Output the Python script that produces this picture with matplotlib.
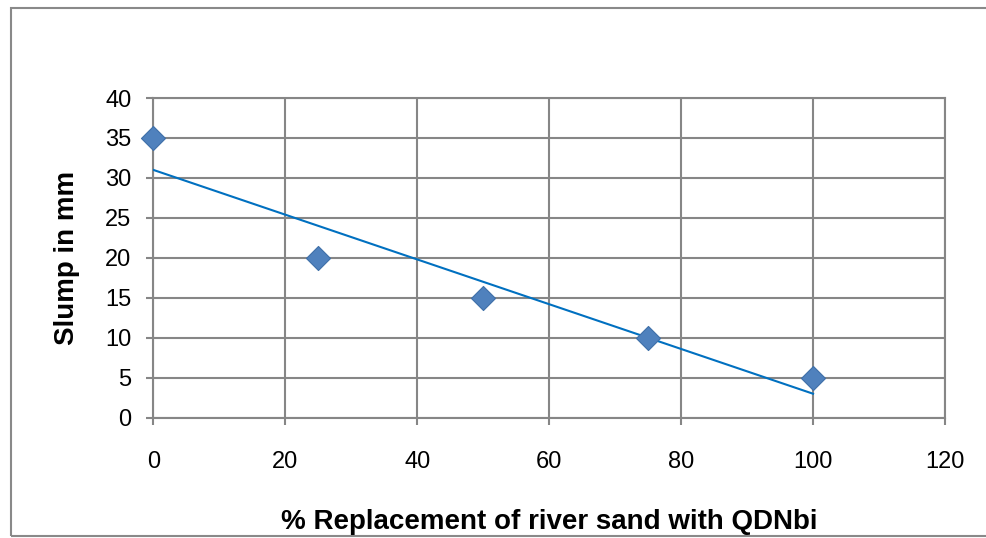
import numpy as np
import matplotlib.pyplot as plt
from matplotlib.patches import Rectangle

replacement = [0, 25, 50, 75, 100]
slump = [35, 20, 15, 10, 5]

x_ticks = [0, 20, 40, 60, 80, 100, 120]
y_ticks = [0, 5, 10, 15, 20, 25, 30, 35, 40]

plt.rcParams['font.family'] = ['Liberation Sans', 'DejaVu Sans']

fig = plt.figure(figsize=(9.87, 5.38), dpi=100)
ax = fig.add_axes([0.1555, 0.2236, 0.8019, 0.5942])

grey = '#868686'

# linear trend line as in the spreadsheet
slope, intercept = np.polyfit(replacement, slump, 1)
xs = np.array([min(replacement), max(replacement)])
ax.plot(xs, slope * xs + intercept, color='#0070C0', lw=1.5, zorder=3)

ax.scatter(replacement, slump, marker='D', s=150, color='#4F81BD',
           edgecolors='#3E6FA8', linewidths=0.8, zorder=4, clip_on=False)

ax.set_xlim(0, 120)
ax.set_ylim(0, 40)
ax.set_xticks(x_ticks)
ax.set_yticks(y_ticks)
ax.grid(True, color=grey, lw=1.5)
ax.set_axisbelow(True)
for s in ax.spines.values():
    s.set_color(grey)
    s.set_linewidth(1.5)
ax.tick_params(axis='both', direction='out', length=5, width=1.5, color=grey,
               labelsize=17)
ax.tick_params(axis='x', pad=19)
ax.tick_params(axis='y', pad=11)

ax.set_xlabel('% Replacement of river sand with QDNbi', fontsize=20,
              fontweight='bold', labelpad=26)
ax.set_ylabel('Slump in mm', fontsize=20, fontweight='bold', labelpad=18)

fig.patches.append(Rectangle((11 / 987, 2 / 538), 1.0, 528 / 538,
                             transform=fig.transFigure, fill=False,
                             edgecolor='#898989', lw=1.5))

fig.savefig('out.png', dpi=100)
